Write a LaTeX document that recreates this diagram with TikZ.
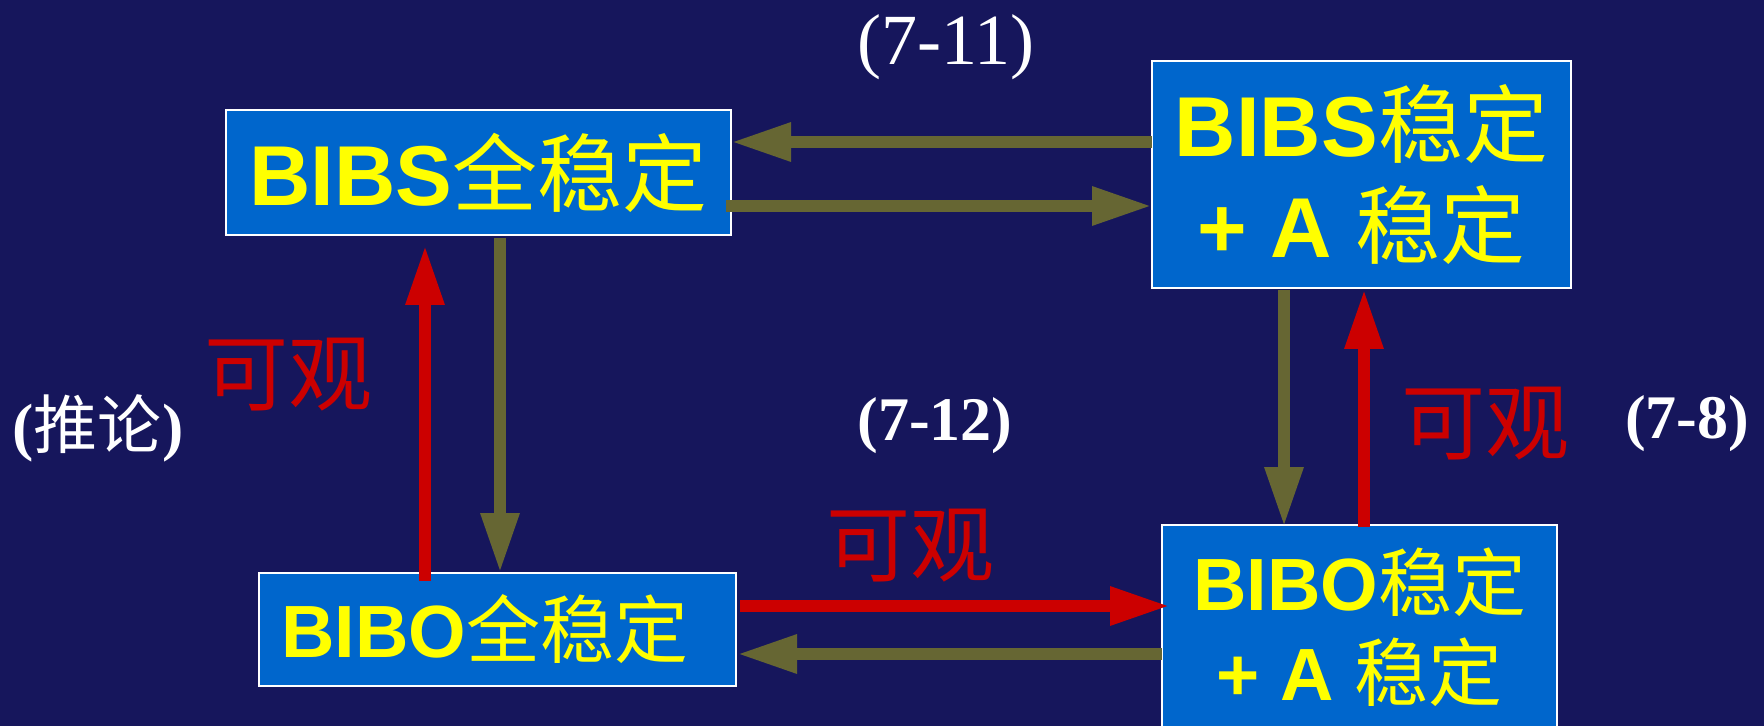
\documentclass[tikz,border=0pt]{standalone}
\usepackage{fontspec}
\setmainfont{Liberation Serif}
\setsansfont{Liberation Sans}
\newfontfamily\cjk{Noto Sans CJK SC}
\usetikzlibrary{arrows.meta}
\definecolor{bgc}{RGB}{22,22,92}
\definecolor{boxc}{RGB}{0,102,204}
\definecolor{olivec}{RGB}{102,102,51}
\definecolor{redc}{RGB}{204,0,0}
\definecolor{yelc}{RGB}{255,255,0}
\newcommand\bxl[1]{{\sffamily\bfseries #1}}
\tikzset{
  stbox/.style={draw=white, line width=1.25pt, fill=boxc, text=yelc, inner sep=0pt, outer sep=0pt, align=center},
  olv/.style={draw=olivec, line width=6pt, -{Triangle[length=30pt,width=18pt]}},
  rdv/.style={draw=redc, line width=6pt, -{Triangle[length=30pt,width=18pt]}},
  obs/.style={text=redc, font=\cjk\fontsize{42}{48}\selectfont, anchor=base, inner sep=0pt},
  eqn/.style={text=white, anchor=base, inner sep=0pt}
}
\begin{document}
\begin{tikzpicture}[x=0.5pt,y=-0.5pt]
\useasboundingbox (0,0) rectangle (1764,726);
\fill[bgc] (0,0) rectangle (1764,726);
% boxes
\node[stbox, minimum width=252.5pt, minimum height=62.5pt, font=\fontsize{42.5}{50.5}\selectfont] (b1) at (478.5,172.5) {\bxl{BIBS}{\cjk 全稳定}};
\node[stbox, minimum width=209.5pt, minimum height=113.5pt, font=\fontsize{42.5}{50.5}\selectfont] (b2) at (1361.5,174.5) {\bxl{BIBS}{\cjk 稳定}\\\bxl{+ A }{\cjk 稳定}};
\node[stbox, minimum width=238.5pt, minimum height=56.5pt, font=\fontsize{37}{45}\selectfont] (b3) at (497.5,629.5) {\bxl{BIBO}{\cjk 全稳定}\hspace*{13pt}};
\node[stbox, minimum width=197.5pt, minimum height=102pt, font=\fontsize{37}{45}\selectfont] (b4) at (1359.5,627) {\bxl{BIBO}{\cjk 稳定}\\\bxl{+ A }{\cjk 稳定}};
% connectors
\draw[olv] ([yshift=16.25pt]b2.west) -- ([yshift=15.25pt]b1.east);
\draw[olv] ([xshift=-2.5pt,yshift=-16.75pt]b1.east) -- ([yshift=-15.75pt]b2.west);
\draw[olv] ([xshift=10.75pt,yshift=-1.5pt]b1.south) -- ([xshift=1.25pt]b3.north);
\draw[rdv] ([xshift=-36.25pt,yshift=-4pt]b3.north) -- ([xshift=-26.75pt,yshift=-5pt]b1.south);
\draw[rdv] ([xshift=2pt,yshift=11.75pt]b3.east) -- ([xshift=4pt,yshift=10.5pt]b4.west);
\draw[olv] ([yshift=-13.5pt]b4.west) -- ([xshift=0.5pt,yshift=-12.25pt]b3.east);
\draw[olv] ([xshift=-38.75pt,yshift=-1pt]b2.south) -- ([xshift=-37.75pt,yshift=-1pt]b4.north);
\draw[rdv] ([xshift=2.25pt,yshift=-1pt]b4.north) -- ([xshift=1.25pt,yshift=-0.5pt]b2.south);
% labels
\node[obs] (o1) at (288,405) {可观};
\node[obs] (o2) at (910,575) {可观};
\node[obs] (o3) at (1485,453) {可观};
\node[eqn, font=\fontsize{36}{40}\selectfont] (e1) at (946,65) {(7-11)};
\node[eqn, font=\bfseries\fontsize{31}{36}\selectfont] (e2) at (935,440) {(7-12)};
\node[eqn, font=\bfseries\fontsize{31}{36}\selectfont] (e3) at (1687,438) {(7-8)};
\node[eqn, font=\bfseries\fontsize{32}{36}\selectfont] (e4) at (98,449) {({\cjk\mdseries 推论})};
\end{tikzpicture}
\end{document}
